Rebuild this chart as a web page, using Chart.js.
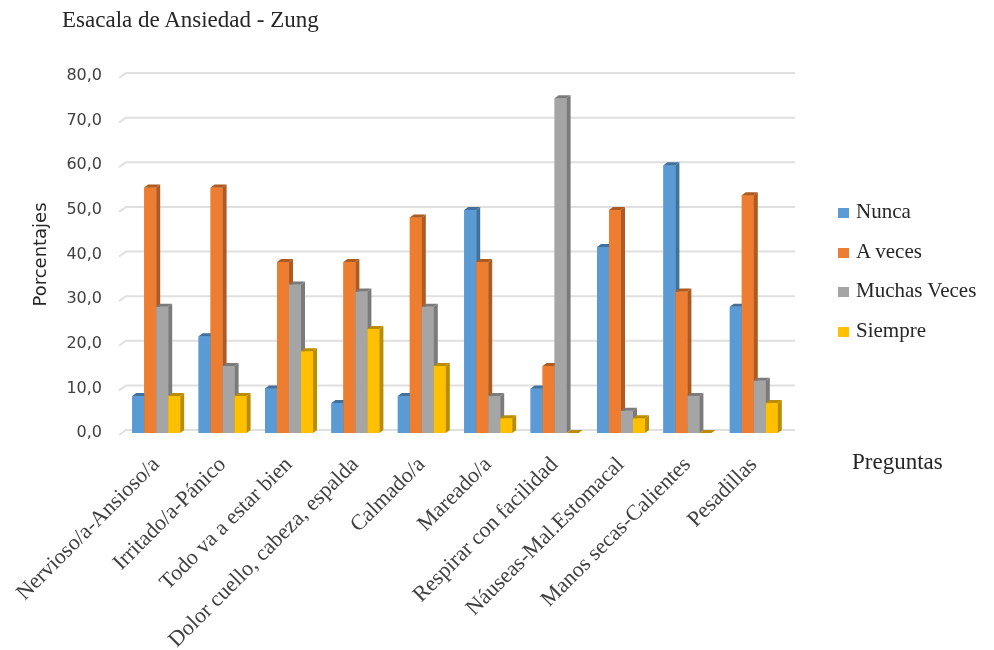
<!DOCTYPE html>
<html lang="es">
<head>
    <meta charset="UTF-8">
    <title>Esacala de Ansiedad - Zung</title>
    <script src="https://cdn.jsdelivr.net/npm/chart.js"></script>
    <style>
        body {
            margin: 0;
            background: #ffffff;
        }
        .wrap {
            position: relative;
            width: 994px;
            height: 650px;
        }
        .title {
            position: absolute;
            left: 62px;
            top: 8px;
            font: 23px 'Liberation Serif', serif;
            line-height: 1;
            color: #262626;
        }
        .legend {
            position: absolute;
            left: 838px;
            top: 201px;
        }
        .legend-item {
            display: flex;
            align-items: baseline;
            height: 39.5px;
            font: 21px 'Liberation Serif', serif;
            line-height: 1;
            color: #262626;
        }
        .legend-box {
            display: inline-block;
            width: 11px;
            height: 10px;
            margin-right: 7px;
        }
        .xtitle {
            position: absolute;
            left: 852px;
            top: 450px;
            font: 23px 'Liberation Serif', serif;
            line-height: 1;
            color: #262626;
        }
    </style>
</head>
<body>
    <div class="wrap">
        <canvas id="zungChart" width="994" height="650"></canvas>
        <div class="title">Esacala de Ansiedad - Zung</div>
        <div class="legend" id="legend"></div>
        <div class="xtitle">Preguntas</div>
    </div>

    <script>
        const categories = [
            'Nervioso/a-Ansioso/a', 'Irritado/a-Pánico', 'Todo va a estar bien',
            'Dolor cuello, cabeza, espalda', 'Calmado/a', 'Mareado/a',
            'Respirar con facilidad', 'Náuseas-Mal.Estomacal', 'Manos secas-Calientes', 'Pesadillas'
        ];
        const seriesNames = ['Nunca', 'A veces', 'Muchas Veces', 'Siempre'];
        const nunca   = [8.3, 21.7, 10.0, 6.7, 8.3, 50.0, 10.0, 41.7, 60.0, 28.3];
        const aVeces  = [55.0, 55.0, 38.3, 38.3, 48.3, 38.3, 15.0, 50.0, 31.7, 53.3];
        const muchas  = [28.3, 15.0, 33.3, 31.7, 28.3, 8.3, 75.0, 5.0, 8.3, 11.7];
        const siempre = [8.3, 8.3, 18.3, 23.3, 15.0, 3.3, 0.0, 3.3, 0.0, 6.7];
        const yTicks  = [0, 10, 20, 30, 40, 50, 60, 70, 80];

        const colors = ['#5B9BD5', '#ED7D31', '#A5A5A5', '#FFC000'];
        const darkColors = ['#41719C', '#AE5A21', '#7B7B7B', '#BC8C00'];
        const D = 4, DY = 3;   // depth of the fake 3d faces

        // back wall grid, shifted a little up/right like the excel 3d chart
        const wallGrid = {
            id: 'wallGrid',
            beforeDatasetsDraw(chart) {
                const ctx = chart.ctx;
                const y = chart.scales.y;
                const area = chart.chartArea;
                ctx.save();
                ctx.strokeStyle = '#e0e0e0';
                ctx.lineWidth = 2;
                yTicks.forEach(v => {
                    const py = y.getPixelForValue(v) - DY;
                    ctx.beginPath();
                    ctx.moveTo(area.left - 4, py + 5);
                    ctx.lineTo(area.left + 3, py);
                    ctx.lineTo(area.right + 8, py);
                    ctx.stroke();
                });
                ctx.restore();
            }
        };

        // redraw bars left to right with a darker side and top face
        const bar3d = {
            id: 'bar3d',
            afterDatasetsDraw(chart) {
                const ctx = chart.ctx;
                ctx.save();
                chart.data.datasets.forEach((ds, i) => {
                    const meta = chart.getDatasetMeta(i);
                    meta.data.forEach(bar => {
                        const {x, y, base, width} = bar.getProps(['x', 'y', 'base', 'width'], true);
                        const l = x - width / 2, r = x + width / 2;
                        bar.draw(ctx);
                        ctx.fillStyle = darkColors[i];
                        ctx.beginPath();
                        ctx.moveTo(r, y);
                        ctx.lineTo(r + D, y - DY);
                        ctx.lineTo(r + D, base - DY);
                        ctx.lineTo(r, base);
                        ctx.closePath();
                        ctx.fill();
                        ctx.beginPath();
                        ctx.moveTo(l, y);
                        ctx.lineTo(l + D, y - DY);
                        ctx.lineTo(r + D, y - DY);
                        ctx.lineTo(r, y);
                        ctx.closePath();
                        ctx.fill();
                    });
                });
                ctx.restore();
            }
        };

        const values = [nunca, aVeces, muchas, siempre];
        const datasets = seriesNames.map((name, i) => ({
            label: name,
            data: values[i],
            backgroundColor: colors[i],
            borderWidth: 0,
            barPercentage: 1,
            categoryPercentage: 0.723
        }));

        const ctx = document.getElementById('zungChart').getContext('2d');
        const zungChart = new Chart(ctx, {
            type: 'bar',
            data: {
                labels: categories,
                datasets: datasets
            },
            options: {
                responsive: false,
                animation: false,
                layout: {
                    padding: { top: 76, right: 207, left: 0, bottom: 0 }
                },
                plugins: {
                    legend: { display: false },
                    tooltip: { enabled: false }
                },
                scales: {
                    y: {
                        min: 0,
                        max: 80,
                        afterBuildTicks: axis => {
                            axis.ticks = yTicks.map(v => ({ value: v }));
                        },
                        afterFit: axis => { axis.width = 123; },
                        grid: { display: false, drawTicks: false },
                        border: { display: false },
                        ticks: {
                            padding: 21,
                            color: '#404040',
                            font: { family: 'DejaVu Sans', size: 16 },
                            callback: v => v.toFixed(1).replace('.', ',')
                        },
                        title: {
                            display: true,
                            text: 'Porcentajes',
                            color: '#262626',
                            font: { family: 'DejaVu Sans', size: 18 },
                            padding: { top: 31, bottom: 0 }
                        }
                    },
                    x: {
                        afterFit: axis => {
                            axis.height = 217;
                            // long rotated labels may run off the left edge, like the original
                            axis.paddingLeft = 0;
                            axis.paddingRight = 0;
                        },
                        grid: { display: false, drawTicks: false },
                        border: { display: false },
                        ticks: {
                            minRotation: 45,
                            maxRotation: 45,
                            autoSkip: false,
                            padding: 19,
                            color: '#404040',
                            font: { family: 'Liberation Serif', size: 22 }
                        }
                    }
                }
            },
            plugins: [wallGrid, bar3d]
        });

        // html legend from the same series
        const legend = document.getElementById('legend');
        seriesNames.forEach((name, i) => {
            const item = document.createElement('div');
            item.className = 'legend-item';
            const box = document.createElement('span');
            box.className = 'legend-box';
            box.style.background = colors[i];
            item.appendChild(box);
            item.appendChild(document.createTextNode(name));
            legend.appendChild(item);
        });
    </script>
</body>
</html>
